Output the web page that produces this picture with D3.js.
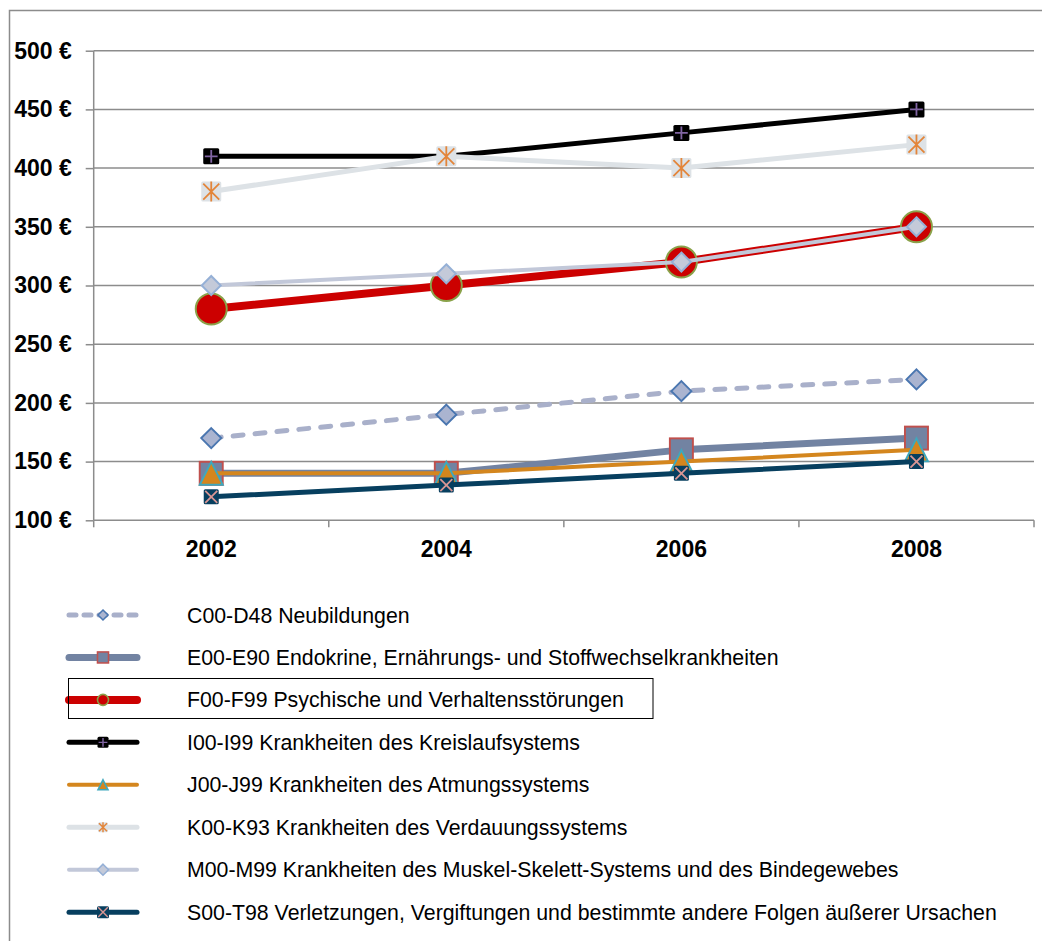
<!DOCTYPE html>
<html>
<head>
<meta charset="utf-8">
<script src="https://cdn.jsdelivr.net/npm/d3@7"></script>
<style>
  body { margin: 0; background: #fff; }
  svg { display: block; font-family: Arial, "Liberation Sans", sans-serif; }
</style>
</head>
<body>
<script>
// categories and ticks
var years = ["2002", "2004", "2006", "2008"];
var yTicks = [100, 150, 200, 250, 300, 350, 400, 450, 500];

// series values (Euro)
var neubildungen   = [170, 190, 210, 220];
var endokrine      = [140, 140, 160, 170];
var psychische     = [280, 300, 320, 350];
var kreislauf      = [410, 410, 430, 450];
var atmung         = [140, 140, 150, 160];
var verdauung      = [380, 410, 400, 420];
var muskel         = [300, 310, 320, 350];
var verletzungen   = [120, 130, 140, 150];

var seriesNames = [
    "C00-D48 Neubildungen",
    "E00-E90 Endokrine, Ernährungs- und Stoffwechselkrankheiten",
    "F00-F99 Psychische und Verhaltensstörungen",
    "I00-I99 Krankheiten des Kreislaufsystems",
    "J00-J99 Krankheiten des Atmungssystems",
    "K00-K93 Krankheiten des Verdauungssystems",
    "M00-M99 Krankheiten des Muskel-Skelett-Systems und des Bindegewebes",
    "S00-T98 Verletzungen, Vergiftungen und bestimmte andere Folgen äußerer Ursachen"
];
var seriesValues = [neubildungen, endokrine, psychische, kreislauf,
                    atmung, verdauung, muskel, verletzungen];

// look of each series: line, marker shape, marker size (chart / legend)
var styles = [
    {line: "#a9b0ca", w: 5, dash: "10,12", shape: "diamond", size: 20, lsize: 10, fill: "#aab4d0", stroke: "#4a76b0"},
    {line: "#7283a2", w: 7, shape: "square", size: 23, lsize: 11, fill: "#7283a2", stroke: "#c0504d"},
    {line: "#cc0000", w: 8, shape: "circle", size: 31, lsize: 11, fill: "#cc0000", stroke: "#8aa24a"},
    {line: "#000000", w: 5, shape: "squarePlus", size: 16, lsize: 11, fill: "#000000", stroke: "#8064a2"},
    {line: "#d4861e", w: 4, shape: "triangle", size: 23, lsize: 10, fill: "#d4861e", stroke: "#3ea8bd"},
    {line: "#dde2e6", w: 5, shape: "squareStar", size: 20, lsize: 10, fill: "#dde2e6", stroke: "#e3853a"},
    {line: "#c2c8d9", w: 4, shape: "diamond", size: 19, lsize: 11, fill: "#c4cad9", stroke: "#95b0d6"},
    {line: "#073f5f", w: 5, shape: "squareX", size: 15, lsize: 12, fill: "#073f5f", stroke: "#d99694"}
];

var W = 1042, H = 941;
var plot = {left: 93.7, right: 1034, top: 50.7, bottom: 520.3};

var x = d3.scalePoint().domain(years).range([plot.left, plot.right]).padding(0.5);
var y = d3.scaleLinear().domain([100, 500]).range([plot.bottom, plot.top]);

var svg = d3.select("body").append("svg")
    .attr("width", W)
    .attr("height", H);

// outer chart frame (right and bottom edge run off the picture)
svg.append("rect")
    .attr("x", 9.5).attr("y", 10.5)
    .attr("width", W + 10).attr("height", H + 10)
    .attr("fill", "none")
    .attr("stroke", "#8c8c8c")
    .attr("stroke-width", 1.5);

// gridlines
svg.append("g").selectAll("line")
    .data(yTicks.slice(1))
    .enter().append("line")
    .attr("x1", plot.left).attr("x2", plot.right)
    .attr("y1", function(d) { return y(d); })
    .attr("y2", function(d) { return y(d); })
    .attr("stroke", "#8c8c8c")
    .attr("stroke-width", 1.5);

// y axis
var yAxis = svg.append("g")
    .attr("transform", "translate(" + plot.left + ",0)")
    .call(d3.axisLeft(y).tickValues(yTicks).tickSize(8).tickPadding(14)
        .tickFormat(function(d) { return d + " €"; }));
yAxis.selectAll("path, line").attr("stroke", "#8c8c8c").attr("stroke-width", 1.5);
yAxis.select(".domain").attr("d", "M0," + plot.top + "V" + plot.bottom);
yAxis.selectAll("text")
    .attr("fill", "#000")
    .attr("font-size", "23px")
    .attr("font-weight", "bold")
    .attr("font-family", "Arial, 'Liberation Sans', sans-serif");

// x axis: ticks sit between the categories
var xAxisG = svg.append("g")
    .attr("transform", "translate(0," + plot.bottom + ")");
xAxisG.append("line")
    .attr("x1", plot.left).attr("x2", plot.right)
    .attr("stroke", "#8c8c8c").attr("stroke-width", 1.5);
var step = x.step();
xAxisG.selectAll(".tick")
    .data(d3.range(years.length + 1))
    .enter().append("line")
    .attr("class", "tick")
    .attr("x1", function(i) { return plot.left + i * step; })
    .attr("x2", function(i) { return plot.left + i * step; })
    .attr("y1", 0).attr("y2", 7)
    .attr("stroke", "#8c8c8c").attr("stroke-width", 1.5);
xAxisG.selectAll(".label")
    .data(years)
    .enter().append("text")
    .attr("class", "label")
    .attr("x", function(d) { return x(d); })
    .attr("y", 36.5)
    .attr("text-anchor", "middle")
    .attr("font-size", "23px")
    .attr("font-weight", "bold")
    .text(function(d) { return d; });

// marker drawing
function drawMarker(g, st, size) {
    var h = size / 2;
    var sw = size > 14 ? 1.5 : 1.2;
    if (st.shape === "diamond") {
        g.append("path")
            .attr("d", "M0," + (-h) + "L" + h + ",0L0," + h + "L" + (-h) + ",0Z")
            .attr("fill", st.fill).attr("stroke", st.stroke).attr("stroke-width", sw * 1.3);
    } else if (st.shape === "circle") {
        g.append("circle")
            .attr("r", h)
            .attr("fill", st.fill).attr("stroke", st.stroke).attr("stroke-width", sw * 1.3);
    } else if (st.shape === "triangle") {
        g.append("path")
            .attr("d", "M0," + (-h) + "L" + h + "," + h + "L" + (-h) + "," + h + "Z")
            .attr("fill", st.fill).attr("stroke", st.stroke).attr("stroke-width", sw * 1.3);
    } else if (st.shape === "square") {
        g.append("rect")
            .attr("x", -h).attr("y", -h).attr("width", size).attr("height", size)
            .attr("fill", st.fill).attr("stroke", st.stroke).attr("stroke-width", sw * 1.3);
    } else {
        // filled square with a symbol drawn over it
        g.append("rect")
            .attr("x", -h).attr("y", -h).attr("width", size).attr("height", size)
            .attr("rx", 1.5)
            .attr("fill", st.fill);
        var k = h * 0.8, p = "";
        if (st.shape === "squarePlus") {
            p = "M" + (-k) + ",0H" + k + "M0," + (-k) + "V" + k;
        } else if (st.shape === "squareX") {
            p = "M" + (-k) + "," + (-k) + "L" + k + "," + k + "M" + k + "," + (-k) + "L" + (-k) + "," + k;
        } else if (st.shape === "squareStar") {
            p = "M0," + (-h) + "V" + h +
                "M" + (-k) + "," + (-k) + "L" + k + "," + k + "M" + k + "," + (-k) + "L" + (-k) + "," + k;
        }
        g.append("path")
            .attr("d", p)
            .attr("fill", "none").attr("stroke", st.stroke).attr("stroke-width", sw * 1.2);
    }
}

var line = d3.line()
    .x(function(d, i) { return x(years[i]); })
    .y(function(d) { return y(d); });

// series, drawn in order so later ones sit on top
seriesValues.forEach(function(vals, si) {
    var st = styles[si];
    var g = svg.append("g").attr("class", "series");
    g.append("path")
        .datum(vals)
        .attr("fill", "none")
        .attr("stroke", st.line)
        .attr("stroke-width", st.w)
        .attr("stroke-dasharray", st.dash || null)
        .attr("stroke-linecap", st.dash ? "round" : "butt")
        .attr("stroke-linejoin", "round")
        .attr("d", line);
    g.selectAll(".point")
        .data(vals)
        .enter().append("g")
        .attr("class", "point")
        .attr("transform", function(d, i) { return "translate(" + x(years[i]) + "," + y(d) + ")"; })
        .each(function() { drawMarker(d3.select(this), st, st.size); });
});

// legend
var legendTop = 615, legendStep = 42.45;
var legend = svg.append("g");
seriesNames.forEach(function(name, si) {
    var st = styles[si];
    var ly = legendTop + si * legendStep;
    var row = legend.append("g").attr("transform", "translate(0," + ly + ")");
    row.append("line")
        .attr("x1", 69).attr("x2", 137)
        .attr("stroke", st.line)
        .attr("stroke-width", st.w)
        .attr("stroke-dasharray", st.dash ? "7,8" : null)
        .attr("stroke-linecap", "round");
    drawMarker(row.append("g").attr("transform", "translate(103,0)"), st, st.lsize);
    row.append("text")
        .attr("x", 187)
        .attr("y", 7.5)
        .attr("font-size", "21.3px")
        .attr("fill", "#000")
        .text(name);
});

// selected legend entry box
legend.append("rect")
    .attr("x", 68.5).attr("y", 678.5)
    .attr("width", 584.5).attr("height", 40)
    .attr("fill", "none")
    .attr("stroke", "#000")
    .attr("stroke-width", 1);
</script>
</body>
</html>
